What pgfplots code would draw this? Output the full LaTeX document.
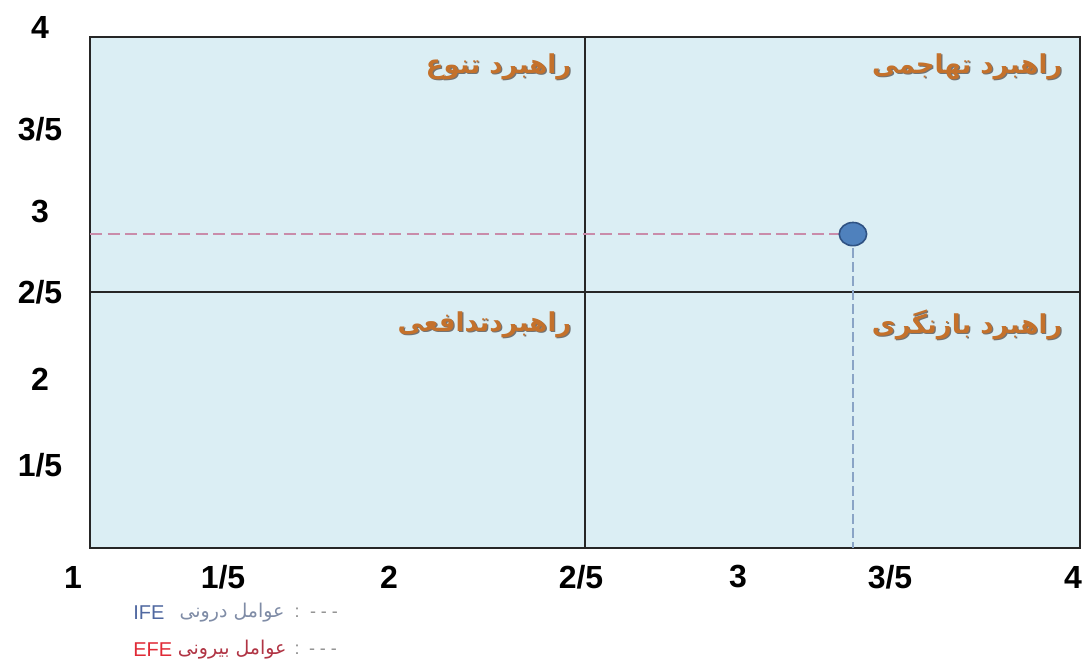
\documentclass[border=0pt]{standalone}
\usepackage{pgfplots}
\pgfplotsset{compat=1.18}
\usepackage{fontspec}
\setmainfont{Liberation Sans}
\newfontfamily\arabicfont[Script=Arabic]{DejaVu Sans}
\TeXXeTstate=1

\definecolor{bgblue}{HTML}{DBEEF4}
\definecolor{quad}{HTML}{C4712B}
\definecolor{pinkdash}{HTML}{C98CAA}
\definecolor{bluedash}{HTML}{8AA4C6}
\definecolor{ptfill}{HTML}{4F81BD}
\definecolor{ptedge}{HTML}{2F5283}
\definecolor{ifecol}{HTML}{5068A0}
\definecolor{ifetxt}{HTML}{7F8CA6}
\definecolor{efecol}{HTML}{E02A36}
\definecolor{efetxt}{HTML}{B03444}

% shift a label sideways / upward without changing its box
\newcommand\sh[2]{\kern#1\relax#2\kern-#1\relax}
\newcommand\up[2]{\raisebox{#1}[\height][\depth]{#2}}
% quadrant caption with a soft dark shadow
\newcommand\quadlabel[2]{%
  \node[anchor=east, inner sep=0pt, text=black!55, font=\arabicfont\bfseries\fontsize{13}{15}\selectfont]
    at ([xshift=0.6pt,yshift=-0.6pt]#1) {#2};
  \node[anchor=east, inner sep=0pt, text=quad, font=\arabicfont\bfseries\fontsize{13}{15}\selectfont]
    at (#1) {#2};}

\begin{document}
\begin{tikzpicture}
\path[use as bounding box] (0,0) rectangle (541pt,332pt);
\begin{axis}[
  at={(45pt,58pt)}, anchor=south west,
  scale only axis, width=495pt, height=255.5pt,
  xmin=1, xmax=4, ymin=1, ymax=4,
  axis background/.style={fill=bgblue},
  axis line style={line width=1.1pt, black!85},
  major tick length=0pt,
  xtick={1,1.5,2,2.5,3,3.5,4},
  xticklabels={\sh{-8.5pt}{1},\sh{-16pt}{1/5},\sh{-15.5pt}{2},\sh{-2pt}{2/5},\sh{-6pt}{3},\sh{-12.5pt}{3/5},\sh{-3.5pt}{4}},
  ytick={1.5,2,2.5,3,3.5,4},
  yticklabels={\up{-1pt}{1/5},\up{-1pt}{2},{2/5},\up{-2pt}{3},\up{-3.5pt}{3/5},\up{5pt}{4}},
  xticklabel style={anchor=center, yshift=-14.5pt, font=\fontsize{16}{18}\selectfont\bfseries},
  yticklabel style={anchor=center, xshift=-25pt, font=\fontsize{16}{18}\selectfont\bfseries},
  clip=false,
]
% quadrant dividers
\addplot[line width=1pt, black!85] coordinates {(2.5,1) (2.5,4)};
\addplot[line width=1pt, black!85] coordinates {(1,2.5) (4,2.5)};
% guide lines to the position of the organisation
\addplot[pinkdash, line width=0.9pt, dash pattern=on 6pt off 2.8pt] coordinates {(1,2.843) (3.312,2.843)};
\addplot[bluedash, line width=0.9pt, dash pattern=on 5pt off 2pt] coordinates {(3.312,2.843) (3.312,1)};
% IFE = 3.312, EFE = 2.843
\addplot[only marks, mark=*, mark size=5.8pt,
  mark options={fill=ptfill, draw=ptedge, line width=0.8pt, xscale=1.18}]
  coordinates {(3.312,2.843)};
% quadrant captions
\quadlabel{axis cs:2.46,3.824}{\beginR راهبرد تنوع\endR}
\quadlabel{axis cs:3.948,3.824}{\beginR راهبرد تهاجمی\endR}
\quadlabel{axis cs:2.46,2.309}{\beginR راهبردتدافعی\endR}
\quadlabel{axis cs:3.948,2.309}{\beginR راهبرد بازنگری\endR}
\end{axis}
% key below the chart
\node[anchor=west, inner sep=0pt, text=ifecol, font=\fontsize{10}{12}\selectfont] at (66.5pt,25.5pt) {IFE};
\node[anchor=east, inner sep=0pt, text=ifetxt, font=\arabicfont\fontsize{9.5}{12}\selectfont] at (142.5pt,25.5pt) {\beginR عوامل درونی\endR};
\node[inner sep=0pt, text=black!45, font=\fontsize{9}{11}\selectfont] at (148.5pt,25.5pt) {:};
\node[inner sep=0pt, text=black!45, font=\fontsize{9}{11}\selectfont] at (162pt,24.5pt) {- - -};
\node[anchor=west, inner sep=0pt, text=efecol, font=\fontsize{10}{12}\selectfont] at (66.5pt,7pt) {EFE};
\node[anchor=east, inner sep=0pt, text=efetxt, font=\arabicfont\fontsize{9.5}{12}\selectfont] at (143.5pt,7pt) {\beginR عوامل بیرونی\endR};
\node[inner sep=0pt, text=black!45, font=\fontsize{9}{11}\selectfont] at (148.5pt,7pt) {:};
\node[inner sep=0pt, text=black!45, font=\fontsize{9}{11}\selectfont] at (161.5pt,6pt) {- - -};
\end{tikzpicture}
\end{document}
